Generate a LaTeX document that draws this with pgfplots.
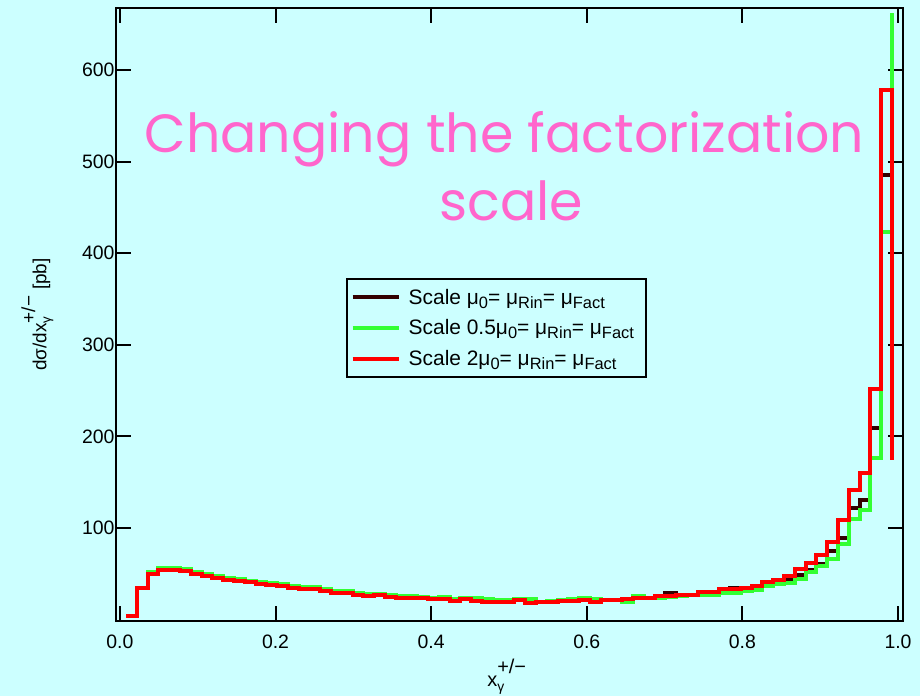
\documentclass[border=0pt]{standalone}
\usepackage{fontspec}
\setmainfont{Liberation Sans}
\newfontfamily\titlefont{Poppins}
\usepackage{amsmath}
\usepackage{pgfplots}
\pgfplotsset{compat=1.18}
\usepackage{pgfplotstable}
\definecolor{bg}{HTML}{CCFFFF}
\definecolor{pinkt}{HTML}{FF66CC}
\definecolor{c0}{HTML}{330000}
\definecolor{c1}{HTML}{33FF33}
\definecolor{c2}{HTML}{FF0000}
\newcommand{\sub}[1]{\raisebox{-0.35ex}{\fontsize{16.5}{16.5}\selectfont #1}}

\pgfplotstableread{
x      k    g    r
0.0080 3.8  3.8  3.8
0.0219 34.7 34.7 34.7
0.0357 50.5 51.5 49.5
0.0496 55   56   54
0.0634 55   56   54
0.0773 53.5 55   52.5
0.0912 51   52   50
0.1050 49   50   48
0.1189 46.5 47.5 45.5
0.1327 44.5 45.5 43.5
0.1466 43   44   42
0.1605 41.5 42.5 40.6
0.1743 40   41   38.8
0.1882 39   40   38.2
0.2020 38   39   37
0.2159 36   37   34.5
0.2298 34.5 35.5 33.5
0.2436 34   35   33
0.2575 32   33   31.5
0.2713 30.5 31.5 29.3
0.2852 30   31   29.3
0.2991 28   29   26.7
0.3129 27   28   25.6
0.3268 27   28   26.7
0.3406 26   27   24.9
0.3545 25   26   23.8
0.3684 26   26   23.8
0.3822 24   25   23.1
0.3961 23   24   22
0.4099 23   24.5 22
0.4238 21.5 22.5 20.2
0.4377 22.5 24   22
0.4515 21.5 23   20.2
0.4654 20.5 22.5 18.8
0.4792 20   21.5 19.2
0.4931 20.5 21.5 19.2
0.5070 21.5 22.5 21
0.5208 20   22   17.7
0.5347 19.5 19.5 18.8
0.5485 20   20.5 19.4
0.5624 20.5 21   20.5
0.5763 21   22.5 20.5
0.5901 22   23   21.3
0.6040 20.5 22.5 18.8
0.6178 21.5 21.5 21.3
0.6317 21.5 21   21.3
0.6456 22   19.5 22
0.6594 23.5 26   23.1
0.6733 24   23   23.1
0.6871 26   24   26
0.7010 28.6 25   26
0.7149 27   26   26.7
0.7287 27   26.5 26.7
0.7426 30.4 27   29.6
0.7564 30   27   29.6
0.7703 31.5 28.6 32.9
0.7842 34.6 29   32.9
0.7980 33.5 31.5 34.7
0.8119 35   32.2 36.6
0.8257 39   37   41.3
0.8396 41   38.3 43.1
0.8535 44   40   47.9
0.8673 48.5 44.6 54.8
0.8812 54   51.6 62
0.8950 60.7 58.7 70.4
0.9089 74.3 65.7 84.3
0.9228 89   83   108.6
0.9366 121.4 109.7 141.4
0.9505 130.5 119.5 159.6
0.9643 209  176  252
0.9782 485  423  578
0.9920 300  662  174
}\datatab

\begin{document}
\begin{tikzpicture}
\fill[bg] (0,0) rectangle (920bp,696bp);
\begin{axis}[
  at={(116bp,75bp)}, anchor=south west,
  scale only axis, width=786.7bp, height=613bp,
  xmin=-0.005, xmax=1.006, ymin=-1.6, ymax=667.7,
  xtick={0,0.2,0.4,0.6,0.8,1.0},
  ytick={100,200,300,400,500,600},
  xticklabel style={yshift=-10bp, /pgf/number format/.cd, fixed, fixed zerofill, precision=1},
  /pgf/number format/assume math mode=true,
  tick label style={font=\fontsize{19.5}{21}\selectfont},
  yticklabel style={xshift=2bp},
  major tick length=15bp,
  tick style={black, line width=2bp},
  axis line style={line width=2bp},
  xlabel={x$_{\text{γ}}^{\raisebox{0.5ex}{\text{+/−}}}$},
  ylabel={dσ/dx$_{\text{γ}}^{\raisebox{0.5ex}{\text{+/−}}}$ [pb]},
  xlabel style={font=\fontsize{20}{22}\selectfont, at={(axis description cs:0.497,-0.091)}, anchor=center},
  ylabel style={font=\fontsize{19}{22}\selectfont, at={(axis description cs:-0.1,0.5)}, anchor=center},
  legend style={at={(axis description cs:0.292,0.5595)}, anchor=north west,
    draw=black, line width=2bp, fill=none,
    font=\fontsize{21}{23}\selectfont, row sep=10bp, inner xsep=4bp, inner ysep=8bp,
    cells={anchor=west}, nodes={inner xsep=8bp}},
  legend image code/.code={\draw[#1, line width=4bp] (0bp,0bp) -- (46bp,0bp);},
  legend cell align=left,
]
\addplot[const plot, c0, line width=4bp] table[x=x, y=k] {\datatab};
\addlegendentry{Scale μ\sub{0}= μ\sub{Rin}= μ\sub{Fact}}
\addplot[const plot, c1, line width=4bp] table[x=x, y=g] {\datatab};
\addlegendentry{Scale 0.5μ\sub{0}= μ\sub{Rin}= μ\sub{Fact}}
\addplot[const plot, c2, line width=4bp] table[x=x, y=r] {\datatab};
\addlegendentry{Scale 2μ\sub{0}= μ\sub{Rin}= μ\sub{Fact}}
\end{axis}
\node[anchor=base, text=pinkt, font=\titlefont\fontsize{54}{56}\selectfont, inner sep=0pt] at (504.5bp,543bp) {Changing the factorization};
\node[anchor=base, text=pinkt, font=\titlefont\fontsize{54}{56}\selectfont, inner sep=0pt] at (511.5bp,475bp) {scale};
\end{tikzpicture}
\end{document}
